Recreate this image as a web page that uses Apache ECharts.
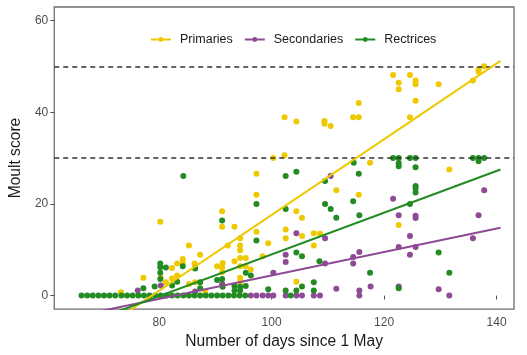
<!DOCTYPE html>
<html><head><meta charset="utf-8">
<script src="https://cdn.jsdelivr.net/npm/echarts@6/dist/echarts.min.js"></script>
<style>html,body{margin:0;padding:0;background:#fff}#c{width:527px;height:355px}</style>
</head><body><div id="c"></div>
<script>
const seriesNames = ['Primaries', 'Secondaries', 'Rectrices'];
const seriesColors = ['#EEC900', '#8E4A94', '#228B22'];

const xTicks = [80, 100, 120, 140];
const yTicks = [0, 20, 40, 60];
const thresholds = [30, 50];

const primaries = [
  [73.2,0.7],[77.2,3.9],[80.2,16.1],[80.3,3.9],[81.2,2.9],[82.3,6.0],[82.3,3.7],[83.2,7.0],[83.2,4.4],
  [84.2,8.0],[84.2,7.1],[85.3,10.9],[85.3,2.5],[86.4,2.9],[86.3,7.0],[87.3,8.9],[88.2,0.8],[90.3,6.4],
  [91.2,18.4],[91.2,15.0],[91.3,7.1],[91.2,6.1],[91.2,5.1],[92.2,10.9],[93.4,15.0],[93.4,7.5],
  [94.4,12.5],[94.4,10.9],[94.4,9.9],[94.4,8.2],[94.4,6.4],[95.4,8.2],[95.4,6.4],[94.4,3.9],[94.4,2.9],
  [96.3,5.7],[97.3,26.6],[97.3,22.0],[97.3,13.9],[98.4,8.6],[99.4,11.4],[100.3,30.0],[102.3,30.6],
  [102.3,38.9],[102.5,14.4],[102.5,12.5],[104.4,38.0],[104.4,18.4],[104.4,3.0],[105.4,17.0],[105.4,13.0],
  [107.5,13.6],[107.5,10.9],[108.6,13.5],[109.4,38.1],[109.4,37.5],[110.5,37.0],[111.5,23.0],
  [114.5,38.9],[115.5,38.9],[115.5,42.0],[115.5,22.0],[117.5,29.0],[121.6,48.1],[122.6,46.4],[122.6,45.0],
  [122.6,15.4],[124.6,48.1],[124.6,38.9],[125.6,46.9],[125.6,46.1],[125.6,42.5],[129.7,46.1],[131.6,27.5],
  [135.8,46.9],[136.8,49.3],[136.8,48.8],[137.8,50.0]
];

const secondaries = [
  [76.2,1.1],[80.3,2.2],[86.4,0.9],[91.2,2.6],[100.3,5.0],[102.5,8.9],[102.5,7.3],[104.4,13.6],
  [110.5,26.1],[109.5,12.5],[109.5,7.0],[111.5,1.5],[114.5,8.4],[114.5,7.0],[115.6,9.5],[115.6,1.1],
  [115.6,0],[117.6,2.0],[121.6,21.1],[122.6,17.5],[122.6,10.6],[122.6,2.0],[124.6,13.0],[124.6,8.9],
  [125.6,17.4],[125.6,16.9],[125.6,10.6],[129.7,1.4],[131.6,0],[135.8,12.5],[136.8,17.5],[137.8,23.0],
  [96.3,0],[97.3,0],[98.4,0],[99.4,0],[100.3,0],[102.5,0],[104.4,0],[105.4,0],[107.5,0],[108.6,0]
];

const rectrices = [
  [66.2,0],[67.2,0],[68.2,0],[69.2,0],[70.2,0],[71.2,0],[72.2,0],[73.3,0],[74.3,0],[75.3,0],
  [76.3,0],[77.3,0],[78.3,0],[79.3,0],[80.3,0],[81.3,0],[82.3,0],[83.3,0],[84.3,0],[85.3,0],
  [86.3,0],[87.3,0],[88.3,0],[89.3,0],[90.3,0],[91.3,0],[92.3,0],[93.3,0],[94.3,0],[95.3,0],
  [103.4,0],
  [77.2,1.6],[79.2,2.0],[80.2,7.0],[80.2,6.2],[80.2,5.0],[80.2,3.6],[81.2,6.1],[82.3,2.2],[83.2,3.0],
  [84.2,6.4],[84.3,26.1],[86.4,5.9],[87.3,2.9],[87.3,1.6],[90.3,3.4],[91.2,16.4],[91.2,3.6],[91.3,1.9],
  [93.4,2.1],[93.4,1.1],[94.4,1.9],[94.4,1.1],[95.4,5.0],[95.4,2.1],[96.3,4.4],[97.3,20.0],[97.3,12.0],
  [99.4,1.4],[102.5,26.1],[102.5,18.9],[102.5,1.1],[104.4,27.0],[104.4,9.4],[104.4,1.1],[105.4,8.6],
  [105.4,2.0],[107.5,2.9],[107.5,1.1],[108.5,7.5],[109.5,25.0],[109.5,20.0],[110.5,18.9],[111.5,17.0],
  [114.5,20.6],[114.6,29.0],[115.5,26.6],[115.6,17.5],[117.5,5.0],[121.6,30.0],[122.6,30.0],[122.6,28.9],
  [122.6,28.2],[124.6,30.0],[125.6,30.0],[125.6,28.0],[124.6,20.0],[125.6,23.9],[125.6,23.4],[125.6,22.5],
  [122.6,1.6],[129.7,9.4],[131.6,5.0],[135.8,30.0],[136.8,30.0],[136.8,29.3],[137.8,30.0]
];

// fitted regression lines (start, end)
const primariesFit = [[66, -10.5], [140.7, 51.2]];
const secondariesFit = [[66, -4.3], [140.7, 14.8]];
const rectricesFit = [[66, -6.5], [140.7, 27.5]];

const pointSets = [primaries, secondaries, rectrices];
const fitSets = [primariesFit, secondariesFit, rectricesFit];

const FONT = '"Liberation Sans", Arial, sans-serif';
const chart = echarts.init(document.getElementById('c'), null, {renderer: 'canvas'});

const series = [];
seriesNames.forEach((n, i) => {
  series.push({
    name: n, type: 'line', data: fitSets[i], symbol: 'circle', symbolSize: 5, showSymbol: false,
    lineStyle: {color: seriesColors[i], width: 2}, itemStyle: {color: seriesColors[i]},
    z: 5, clip: true, silent: true
  });
});
seriesNames.forEach((n, i) => {
  series.push({
    name: n, type: 'scatter', data: pointSets[i], symbol: 'circle', symbolSize: 6,
    itemStyle: {color: seriesColors[i], opacity: 1}, z: 2 + i * 0.1
  });
});
series.push({
  type: 'line', data: [], silent: true,
  markLine: {
    silent: true, symbol: 'none', label: {show: false},
    lineStyle: {type: [5, 4], color: '#333333', width: 1.5},
    data: thresholds.map(v => ({yAxis: v}))
  }
});

chart.setOption({
  animation: false,
  backgroundColor: '#ffffff',
  textStyle: {fontFamily: FONT},
  grid: {left: 51, right: 13, top: 7, bottom: 41, show: true, borderColor: '#6e6e6e', borderWidth: 1.3, containLabel: false},
  legend: {
    data: seriesNames, left: 145, top: 28, itemWidth: 20, itemHeight: 6, itemGap: 11,
    textStyle: {fontSize: 12.5, color: '#1a1a1a', fontFamily: FONT, padding: [0, 0, 0, 4]}
  },
  xAxis: {
    type: 'value', min: 61.35, max: 143.1,
    name: 'Number of days since 1 May', nameLocation: 'middle', nameGap: 23,
    nameTextStyle: {fontSize: 15.6, color: '#1a1a1a', fontFamily: FONT},
    axisLine: {show: false},
    axisTick: {show: true, length: 4, lineStyle: {color: '#555'}, customValues: xTicks},
    axisLabel: {fontSize: 12, color: '#4d4d4d', margin: 8, customValues: xTicks, fontFamily: FONT},
    splitLine: {show: false}
  },
  yAxis: {
    type: 'value', min: -2.95, max: 62.95,
    name: 'Moult score', nameLocation: 'middle', nameGap: 21,
    nameTextStyle: {fontSize: 15.6, color: '#1a1a1a', fontFamily: FONT},
    axisLine: {show: false},
    axisTick: {show: true, length: 4, lineStyle: {color: '#555'}, customValues: yTicks},
    axisLabel: {fontSize: 12, color: '#4d4d4d', margin: 6, customValues: yTicks, fontFamily: FONT},
    splitLine: {show: false}
  },
  series: series
});
</script>
</body></html>
